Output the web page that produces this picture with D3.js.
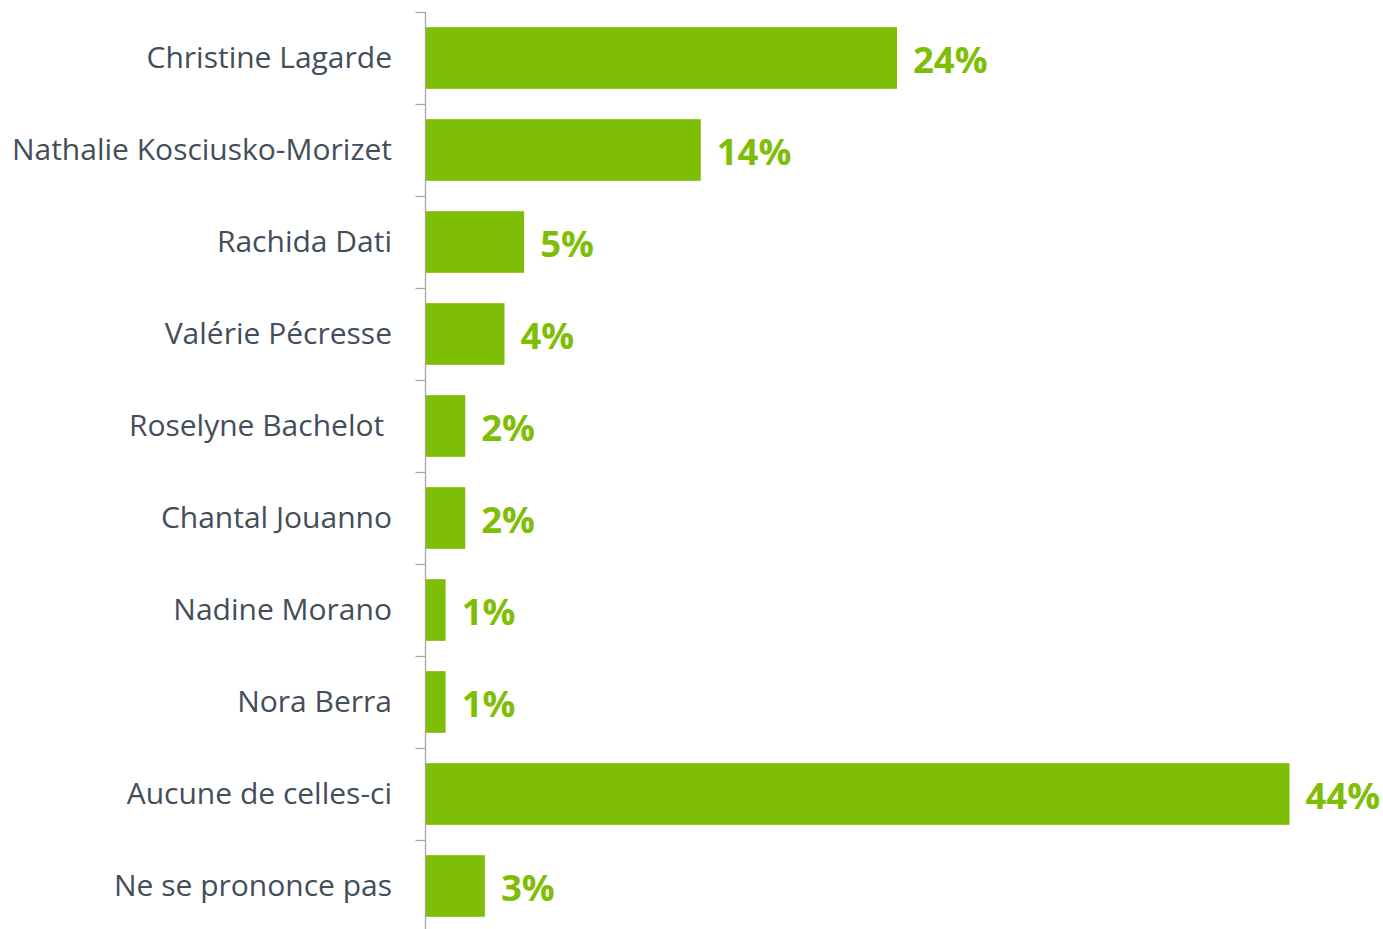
<!DOCTYPE html>
<html>
<head>
<meta charset="utf-8">
<script src="https://cdn.jsdelivr.net/npm/d3@7"></script>
<style>
  html, body { margin: 0; padding: 0; background: #fff; }
  svg { display: block; }
</style>
</head>
<body>
<div id="chart"></div>
<script>
// catégories et valeurs (%)
const categories = [
  'Christine Lagarde',
  'Nathalie Kosciusko-Morizet',
  'Rachida Dati',
  'Valérie Pécresse',
  'Roselyne Bachelot ',
  'Chantal Jouanno',
  'Nadine Morano',
  'Nora Berra',
  'Aucune de celles-ci',
  'Ne se prononce pas'
];
const values = [24, 14, 5, 4, 2, 2, 1, 1, 44, 3];

const W = 1383, H = 929;
const axisX = 425.5;
const green = '#7fbe06';

const svg = d3.select('#chart').append('svg')
  .attr('width', W)
  .attr('height', H);

const x = d3.scaleLinear()
  .domain([0, 44])
  .range([axisX + 0.5, 1289.5]);

const y = d3.scaleBand()
  .domain(categories)
  .range([12, 932])
  .paddingInner(0.33)
  .paddingOuter(0.165);

// ticks entre les catégories
const step = y.step();
const tickYs = categories.map((c, i) => 12 + i * step);

const axis = svg.append('g');
axis.append('line')
  .attr('x1', axisX).attr('x2', axisX)
  .attr('y1', 12).attr('y2', H)
  .attr('stroke', '#a6a6a6')
  .attr('stroke-width', 1.3);
axis.selectAll('line.tick')
  .data(tickYs)
  .join('line')
  .attr('class', 'tick')
  .attr('x1', axisX - 10).attr('x2', axisX)
  .attr('y1', d => Math.round(d) + 0.5)
  .attr('y2', d => Math.round(d) + 0.5)
  .attr('stroke', '#a6a6a6')
  .attr('stroke-width', 1.3);

// barres
svg.append('g')
  .selectAll('rect')
  .data(values)
  .join('rect')
  .attr('x', x(0))
  .attr('y', (d, i) => y(categories[i]))
  .attr('width', d => x(d) - x(0))
  .attr('height', y.bandwidth())
  .attr('fill', green);

// libellés des catégories
svg.append('g')
  .selectAll('text')
  .data(categories)
  .join('text')
  .attr('x', 392)
  .attr('y', d => y(d) + y.bandwidth() / 2 - 1)
  .attr('dy', '0.35em')
  .attr('text-anchor', 'end')
  .attr('xml:space', 'preserve')
  .style('white-space', 'pre')
  .attr('font-family', "'Open Sans', sans-serif")
  .attr('font-size', 30)
  .attr('fill', '#434e5a')
  .text(d => d);

// valeurs
svg.append('g')
  .selectAll('text')
  .data(values)
  .join('text')
  .attr('x', d => x(d) + 16)
  .attr('y', (d, i) => y(categories[i]) + y.bandwidth() / 2 + 2)
  .attr('dy', '0.35em')
  .attr('font-family', "'Open Sans', sans-serif")
  .attr('font-weight', 700)
  .attr('font-size', 36.5)
  .attr('fill', green)
  .text(d => d + '%');
</script>
</body>
</html>
